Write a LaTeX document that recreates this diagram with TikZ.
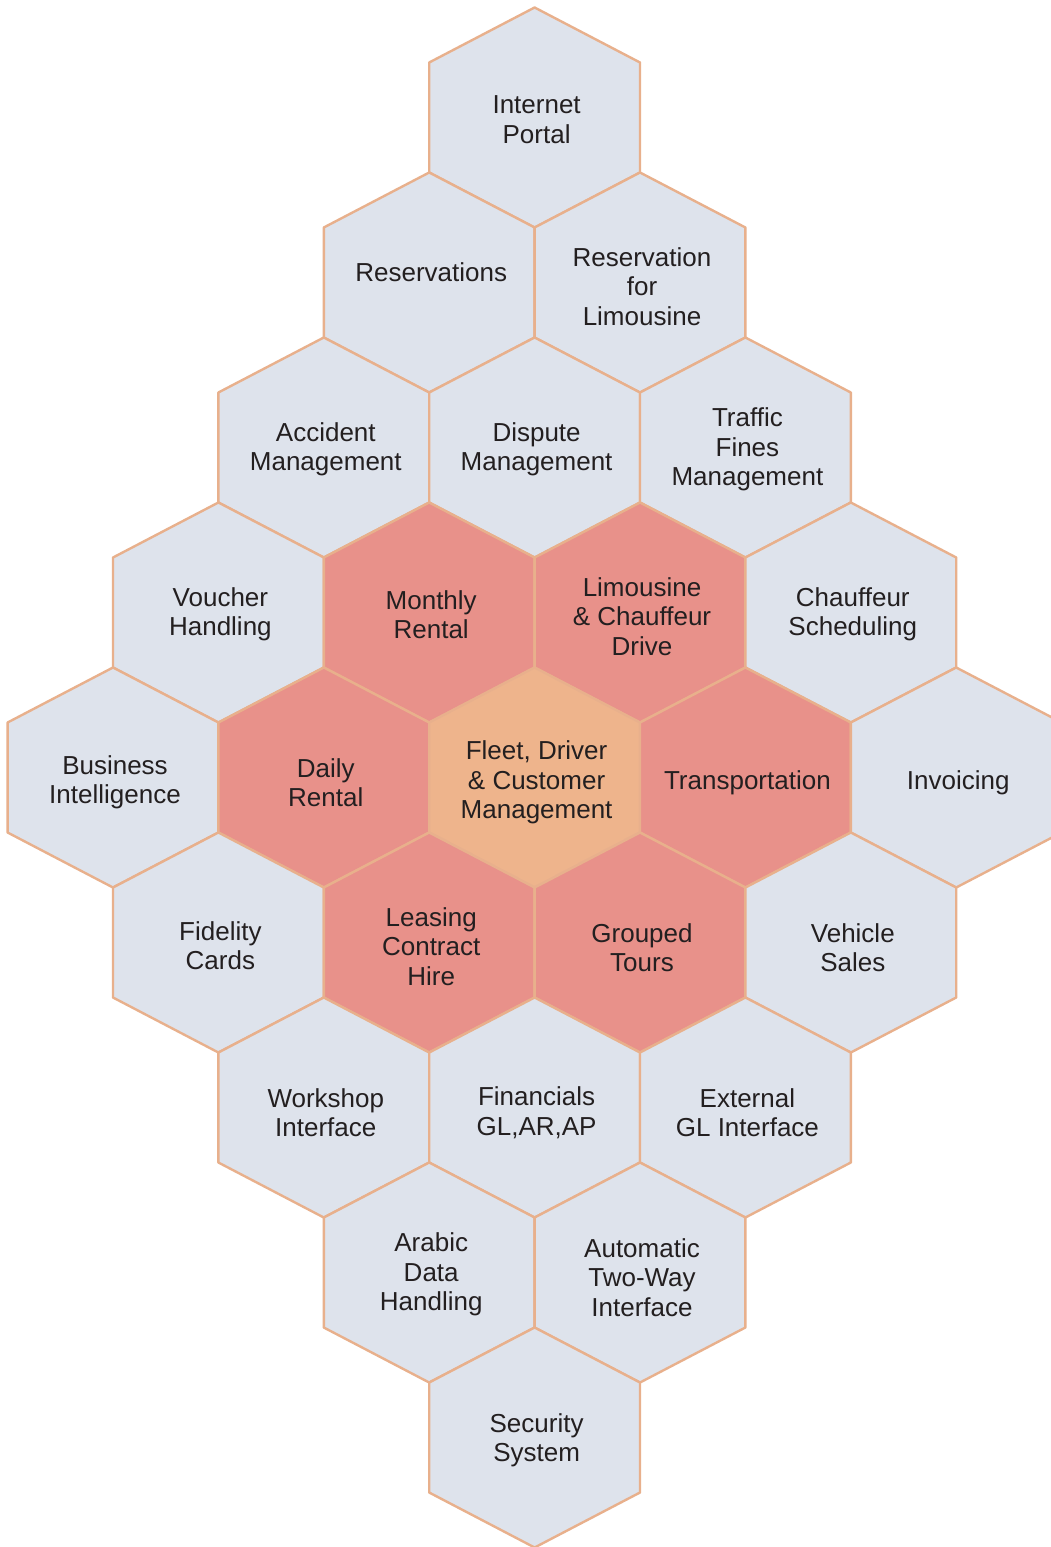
\documentclass[tikz,border=0pt]{standalone}
\usepackage{fontspec}
\setmainfont{Liberation Sans}
\definecolor{hexgray}{HTML}{DEE3EC}
\definecolor{hexsalmon}{HTML}{E8918A}
\definecolor{hexcore}{HTML}{EEB48C}
\definecolor{hexline}{HTML}{E8B08C}
\definecolor{txt}{HTML}{231F20}
\tikzset{
  hexshape/.style={draw=hexline, line width=2.4pt, line join=round},
  grayhex/.style={hexshape, fill=hexgray},
  salmonhex/.style={hexshape, fill=hexsalmon},
  corehex/.style={hexshape, fill=hexcore},
  label/.style={align=center, text=txt, font=\fontsize{26}{29.5}\selectfont, inner sep=0pt}
}
% #1 name, #2 column, #3 row, #4 style, #5 text, #6 vertical text offset
\newcommand\hexcell[6]{%
  \begin{scope}[shift={({113+105.4*#2},{117.5+165*#3})}]
    \path[#4] (0,-110) -- (105.4,-55) -- (105.4,55) -- (0,110) -- (-105.4,55) -- (-105.4,-55) -- cycle;
    \node[label] (#1) at (2,#6+2) {#5};
  \end{scope}}
\begin{document}
\begin{tikzpicture}[x=1pt,y=-1pt]
\useasboundingbox (0,0) rectangle (1050,1547);
\fill[white] (0,0) rectangle (1050,1547);
\hexcell{portal}{4}{0}{grayhex}{Internet\\Portal}{0}
\hexcell{reserv}{3}{1}{grayhex}{Reservations}{-12}
\hexcell{reslimo}{5}{1}{grayhex}{Reservation\\for\\Limousine}{2}
\hexcell{accident}{2}{2}{grayhex}{Accident\\Management}{0}
\hexcell{dispute}{4}{2}{grayhex}{Dispute\\Management}{0}
\hexcell{fines}{6}{2}{grayhex}{Traffic\\Fines\\Management}{0}
\hexcell{voucher}{1}{3}{grayhex}{Voucher\\Handling}{0}
\hexcell{monthly}{3}{3}{salmonhex}{Monthly\\Rental}{0}
\hexcell{limo}{5}{3}{salmonhex}{Limousine\\\& Chauffeur\\Drive}{2}
\hexcell{chauffeur}{7}{3}{grayhex}{Chauffeur\\Scheduling}{0}
\hexcell{bi}{0}{4}{grayhex}{Business\\Intelligence}{3}
\hexcell{daily}{2}{4}{salmonhex}{Daily\\Rental}{3}
\hexcell{fleet}{4}{4}{corehex}{Fleet, Driver\\\& Customer\\Management}{3}
\hexcell{transport}{6}{4}{salmonhex}{Transportation}{3}
\hexcell{invoice}{8}{4}{grayhex}{Invoicing}{3}
\hexcell{fidelity}{1}{5}{grayhex}{Fidelity\\Cards}{1}
\hexcell{leasing}{3}{5}{salmonhex}{Leasing\\Contract\\Hire}{2}
\hexcell{tours}{5}{5}{salmonhex}{Grouped\\Tours}{3}
\hexcell{sales}{7}{5}{grayhex}{Vehicle\\Sales}{3}
\hexcell{workshop}{2}{6}{grayhex}{Workshop\\Interface}{3}
\hexcell{financials}{4}{6}{grayhex}{Financials\\GL,AR,AP}{3}
\hexcell{extgl}{6}{6}{grayhex}{External\\GL Interface}{3}
\hexcell{arabic}{3}{7}{grayhex}{Arabic\\Data\\Handling}{0}
\hexcell{twoway}{5}{7}{grayhex}{Automatic\\Two-Way\\Interface}{3}
\hexcell{security}{4}{8}{grayhex}{Security\\System}{1}
\end{tikzpicture}
\end{document}
